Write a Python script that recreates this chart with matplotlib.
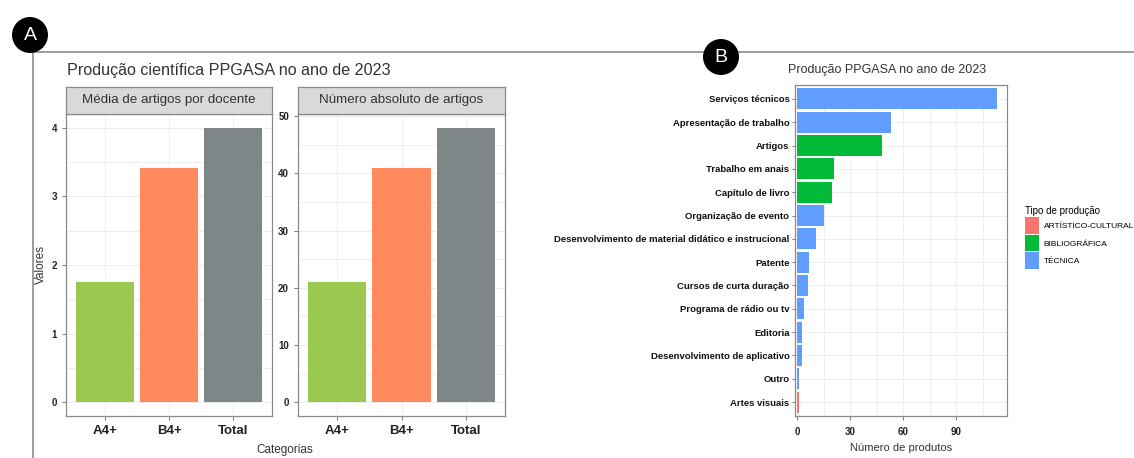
import numpy as np
import matplotlib
matplotlib.use("Agg")
import matplotlib.pyplot as plt
from matplotlib.patches import Patch, Ellipse
from matplotlib.lines import Line2D

# ---- dados ----
categorias = ["A4+", "B4+", "Total"]
media_docente = [1.75, 3.42, 4.0]
numero_absoluto = [21, 41, 48]
cores_cat = ["#9BC84E", "#FF8A5E", "#7E8687"]

produtos = ["Serviços técnicos", "Apresentação de trabalho", "Artigos",
            "Trabalho em anais", "Capítulo de livro", "Organização de evento",
            "Desenvolvimento de material didático e instrucional", "Patente",
            "Cursos de curta duração", "Programa de rádio ou tv", "Editoria",
            "Desenvolvimento de aplicativo", "Outro", "Artes visuais"]
n_produtos = [113, 53, 48, 21, 20, 15, 11, 7, 6, 4, 3, 3, 1, 1]
tipo = ["TÉCNICA", "TÉCNICA", "BIBLIOGRÁFICA", "BIBLIOGRÁFICA", "BIBLIOGRÁFICA",
        "TÉCNICA", "TÉCNICA", "TÉCNICA", "TÉCNICA", "TÉCNICA", "TÉCNICA",
        "TÉCNICA", "TÉCNICA", "ARTÍSTICO-CULTURAL"]
tipos_legenda = ["ARTÍSTICO-CULTURAL", "BIBLIOGRÁFICA", "TÉCNICA"]
cores_tipo = {"ARTÍSTICO-CULTURAL": "#F8766D", "BIBLIOGRÁFICA": "#00BA38",
              "TÉCNICA": "#619CFF"}

plt.rcParams["font.family"] = ["Liberation Sans", "DejaVu Sans"]

W, H = 1134, 458
fig = plt.figure(figsize=(W / 100, H / 100), dpi=100)


def px(x0, y0, x1, y1):
    return [x0 / W, 1 - y1 / H, (x1 - x0) / W, (y1 - y0) / H]


def estilo_bw(ax):
    ax.set_facecolor("white")
    for s in ax.spines.values():
        s.set_color("#8A8A8A")
        s.set_linewidth(0.9)
    ax.grid(True, which="both", color="#EBEBEB", linewidth=0.6)
    ax.set_axisbelow(True)
    ax.tick_params(length=3, width=0.7, color="#777777", labelcolor="#222222")


# moldura da figura composta
fig.add_artist(Line2D([33 / W, 1], [1 - 52 / H] * 2, color="#8C8C8C", lw=1.2))
fig.add_artist(Line2D([33 / W] * 2, [0, 1 - 52 / H], color="#8C8C8C", lw=1.2))

# ---- painel A ----
fig.text(67 / W, 1 - 70 / H, "Produção científica PPGASA no ano de 2023",
         fontsize=11.6, color="#333333", va="center")

facetas = [((66, 272), media_docente, "Média de artigos por docente", (-0.2, 4.2), [0, 1, 2, 3, 4]),
           ((298, 505), numero_absoluto, "Número absoluto de artigos", (-2.4, 50.4), [0, 10, 20, 30, 40, 50])]
x = np.arange(len(categorias))
for (x0, x1), vals, titulo, ylim, yt in facetas:
    ax = fig.add_axes(px(x0, 114, x1, 416))
    estilo_bw(ax)
    ax.bar(x, vals, width=0.9, color=cores_cat)
    ax.set_xlim(-0.6, 2.6)
    ax.set_ylim(*ylim)
    ax.set_xticks(x)
    ax.set_xticklabels(categorias, fontsize=9.5, fontweight="bold")
    ax.set_yticks(yt)
    ax.set_yticks([(a + b) / 2 for a, b in zip(yt[:-1], yt[1:])], minor=True)
    ax.tick_params(axis="y", which="minor", length=0)
    ax.set_yticklabels([str(v) for v in yt], fontsize=7, fontweight="bold")
    strip = fig.add_axes(px(x0, 87, x1, 114))
    strip.set_facecolor("#D9D9D9")
    strip.set_xticks([])
    strip.set_yticks([])
    for s in strip.spines.values():
        s.set_color("#8A8A8A")
        s.set_linewidth(0.9)
    strip.text(0.5, 0.5, titulo, ha="center", va="center", fontsize=9.6,
               color="#333333", transform=strip.transAxes)

fig.text(285 / W, 1 - 450 / H, "Categorias", ha="center", va="center",
         fontsize=8.5, color="#333333")
fig.text(41 / W, 1 - 265 / H, "Valores", ha="center", va="center",
         rotation=90, fontsize=8.5, color="#333333")

# ---- painel B ----
fig.text(788 / W, 1 - 70 / H, "Produção PPGASA no ano de 2023",
         fontsize=9, color="#333333", va="center")
axb = fig.add_axes(px(795, 85, 1007, 416))
estilo_bw(axb)
yb = np.arange(len(produtos))
axb.barh(yb, n_produtos, height=0.9, color=[cores_tipo[t] for t in tipo])
axb.set_ylim(13.6, -0.6)
axb.set_xlim(-1.13, 118.65)
axb.set_yticks(yb)
axb.set_yticklabels(produtos, fontsize=6.8, fontweight="bold", color="#111111")
axb.tick_params(axis="y", length=2.5, pad=1.5)
axb.set_xticks([0, 30, 60, 90])
axb.set_xticks([15, 45, 75, 105], minor=True)
axb.tick_params(axis="x", which="minor", length=0)
axb.tick_params(axis="x", pad=5)
axb.set_xticklabels(["0", "30", "60", "90"], fontsize=7, fontweight="bold")
axb.set_xlabel("Número de produtos", fontsize=8, color="#333333", labelpad=4)

handles = [Patch(facecolor=cores_tipo[t], edgecolor="none") for t in tipos_legenda]
leg = fig.legend(handles, tipos_legenda, title="Tipo de produção",
                 loc="upper left", bbox_to_anchor=(1022 / W, 1 - 203 / H),
                 frameon=False, fontsize=6, title_fontsize=7,
                 handlelength=1.6, handleheight=2.7, handletextpad=0.6,
                 labelspacing=0.1, borderaxespad=0)
leg._legend_box.align = "left"

# marcadores A e B
for cx, cy, letra in [(30, 35, "A"), (721, 57, "B")]:
    fig.add_artist(Ellipse((cx / W, 1 - cy / H), 36 / W, 36 / H,
                           transform=fig.transFigure, facecolor="black",
                           edgecolor="none", zorder=10))
    fig.text(cx / W, 1 - cy / H, letra, color="white", fontsize=14,
             ha="center", va="center", zorder=11)

fig.savefig("out.png", dpi=100)
